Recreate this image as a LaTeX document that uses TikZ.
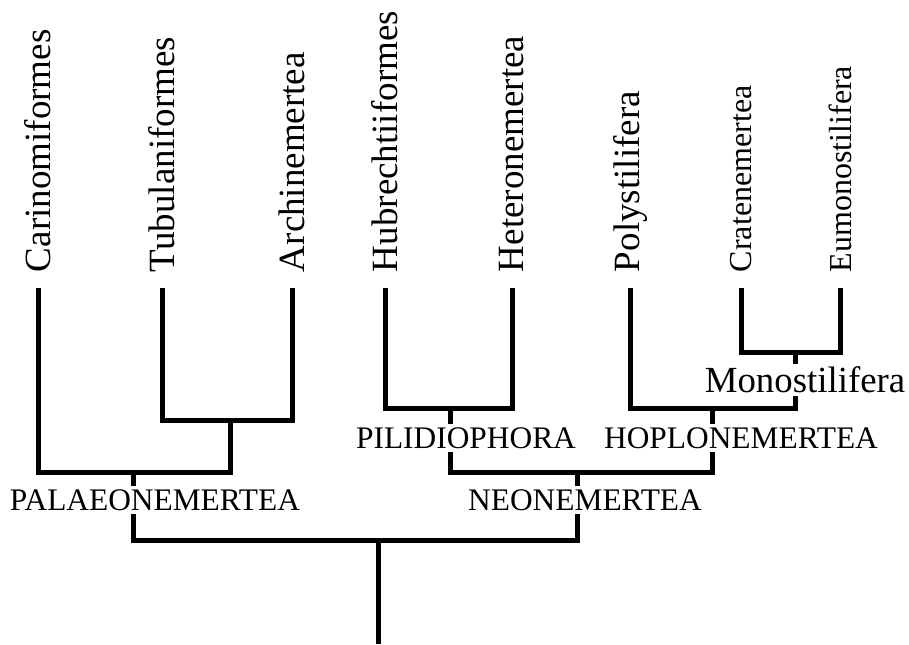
\documentclass[tikz,border=0pt]{standalone}
\usepackage{fontspec}
\setmainfont{Liberation Serif}
\usepackage{tikz}
\usetikzlibrary{positioning,calc}

\begin{document}
\begin{tikzpicture}[
    x=0.5pt, y=-0.5pt,
    taxon/.style={
        rotate=90,
        anchor=west,
        inner sep=0pt,
        outer xsep=8pt,
        font=\fontsize{18.5}{20}\selectfont
    },
    smalltaxon/.style={
        taxon,
        font=\fontsize{16}{18}\selectfont
    },
    clade/.style={
        fill=white,
        inner sep=1.5pt,
        font=\fontsize{15.7}{18}\selectfont
    },
    branch/.style={line width=2.5pt, line join=miter}
]
\useasboundingbox (0,0) rectangle (909,644);

\node[taxon] (carino) at (38,288) {Carinomiformes};
\node[taxon] (tubul) at (162,288) {Tubulaniformes};
\node[taxon] (archi) at (292,288) {Archinemertea};
\node[taxon] (hubre) at (385,288) {Hubrechtiiformes};
\node[taxon] (hetero) at (512,288) {Heteronemertea};
\node[taxon] (poly) at (630,288) {Polystilifera};
\node[smalltaxon] (crate) at (741,288) {Cratenemertea};
\node[smalltaxon] (eumono) at (840,288) {Eumonostilifera};

\coordinate (tuar) at (230,420);
\coordinate (pal) at (133,472);
\coordinate (pil) at (450,408);
\coordinate (mono) at (795,352);
\coordinate (hop) at (712,408);
\coordinate (neo) at (577,472);
\coordinate (root) at (378,540);
\coordinate (base) at (378,644);

\draw[branch] (tubul.west) |- (tuar) -| (archi.west);
\draw[branch] (carino.west) |- (pal) -| (tuar);
\draw[branch] (hubre.west) |- (pil) -| (hetero.west);
\draw[branch] (crate.west) |- (mono) -| (eumono.west);
\draw[branch] (poly.west) |- (hop) -| (mono);
\draw[branch] (pil) |- (neo) -| (hop);
\draw[branch] (pal) |- (root) -| (neo);
\draw[branch] (root) -- (base);

\node[clade] (palaeo-lab) at (155,500) {PALAEONEMERTEA};
\node[clade] (neo-lab) at (585,500) {NEONEMERTEA};
\node[clade] (pil-lab) at (466,438) {PILIDIOPHORA};
\node[clade] (hop-lab) at (741,438) {HOPLONEMERTEA};
\node[clade, font=\fontsize{18.4}{20}\selectfont] (mono-lab) at (805,380) {Monostilifera};
\end{tikzpicture}
\end{document}
